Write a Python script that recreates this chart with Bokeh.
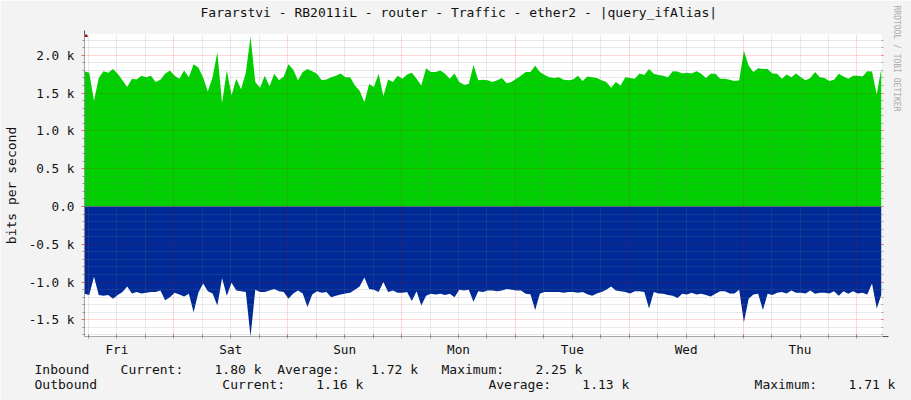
import numpy as np
from bokeh.plotting import figure
from bokeh.models import Range1d, FixedTicker, Arrow, NormalHead, ColumnDataSource, LinearAxis, Title
from bokeh.embed import file_html
from bokeh.resources import INLINE

# ---------------- data (k bits per second, hourly samples) ----------------
title_text = "Fararstvi - RB2011iL - router - Traffic - ether2 - |query_ifAlias|"
start_hour = 5.17  # hours after Friday 00:00 of first sample

inbound = [
    1.79, 1.77, 1.40, 1.70, 1.79, 1.77, 1.82, 1.755, 1.67, 1.58,
    1.69, 1.68, 1.73, 1.71, 1.73, 1.645, 1.675, 1.755, 1.80, 1.73,
    1.69, 1.80, 1.71, 1.88, 1.84, 1.71, 1.52, 1.71, 2.04, 1.37,
    1.80, 1.47, 1.69, 1.55, 1.77, 2.25, 1.645, 1.57, 1.73, 1.59,
    1.755, 1.67, 1.72, 1.88, 1.81, 1.67, 1.78, 1.82, 1.79, 1.755,
    1.67, 1.68, 1.71, 1.73, 1.76, 1.71, 1.71, 1.60, 1.53, 1.38,
    1.62, 1.58, 1.755, 1.46, 1.68, 1.645, 1.73, 1.69, 1.745, 1.77,
    1.69, 1.60, 1.83, 1.78, 1.78, 1.80, 1.755, 1.69, 1.76, 1.645,
    1.61, 1.62, 1.87, 1.67, 1.675, 1.67, 1.645, 1.67, 1.70, 1.63,
    1.645, 1.69, 1.73, 1.78, 1.78, 1.86, 1.78, 1.74, 1.71, 1.70,
    1.71, 1.675, 1.67, 1.68, 1.73, 1.66, 1.72, 1.71, 1.70, 1.67,
    1.645, 1.57, 1.645, 1.60, 1.71, 1.70, 1.69, 1.76, 1.74, 1.82,
    1.755, 1.74, 1.73, 1.71, 1.79, 1.785, 1.76, 1.77, 1.76, 1.79,
    1.755, 1.70, 1.755, 1.755, 1.69, 1.69, 1.675, 1.66, 1.67, 2.06,
    1.86, 1.78, 1.83, 1.82, 1.82, 1.76, 1.755, 1.69, 1.745, 1.71,
    1.76, 1.71, 1.67, 1.70, 1.78, 1.71, 1.70, 1.66, 1.675, 1.755,
    1.72, 1.69, 1.73, 1.73, 1.72, 1.79, 1.785, 1.48, 1.84,
]

outbound = [
    -1.155, -1.17, -0.93, -1.17, -1.18, -1.17, -1.22, -1.17, -1.13, -1.06,
    -1.15, -1.13, -1.15, -1.14, -1.13, -1.13, -1.11, -1.24, -1.20, -1.14,
    -1.165, -1.19, -1.155, -1.40, -1.14, -1.02, -1.12, -1.15, -1.31, -0.95,
    -1.18, -1.01, -1.11, -1.12, -1.13, -1.72, -1.10, -1.13, -1.13, -1.11,
    -1.09, -1.12, -1.13, -1.22, -1.15, -1.11, -1.15, -1.33, -1.165, -1.12,
    -1.14, -1.13, -1.20, -1.18, -1.165, -1.15, -1.14, -1.10, -1.06, -0.94,
    -1.09, -1.10, -1.13, -1.00, -1.13, -1.11, -1.14, -1.14, -1.13, -1.25,
    -1.12, -1.31, -1.18, -1.155, -1.165, -1.155, -1.17, -1.155, -1.20, -1.10,
    -1.11, -1.10, -1.26, -1.12, -1.13, -1.11, -1.11, -1.12, -1.11, -1.09,
    -1.10, -1.11, -1.11, -1.155, -1.16, -1.37, -1.15, -1.13, -1.13, -1.13,
    -1.13, -1.14, -1.13, -1.13, -1.14, -1.13, -1.16, -1.18, -1.15, -1.13,
    -1.10, -1.06, -1.11, -1.12, -1.13, -1.15, -1.12, -1.12, -1.13, -1.35,
    -1.13, -1.15, -1.155, -1.17, -1.18, -1.21, -1.155, -1.165, -1.14, -1.165,
    -1.155, -1.17, -1.19, -1.155, -1.12, -1.12, -1.15, -1.15, -1.10, -1.53,
    -1.22, -1.165, -1.155, -1.37, -1.155, -1.17, -1.14, -1.13, -1.15, -1.11,
    -1.14, -1.14, -1.15, -1.11, -1.155, -1.14, -1.14, -1.15, -1.12, -1.18,
    -1.12, -1.155, -1.12, -1.15, -1.14, -1.165, -1.02, -1.35, -1.16,
]

day_names = ["Fri", "Sat", "Sun", "Mon", "Tue", "Wed", "Thu"]
y_ticks = [-1.5, -1.0, -0.5, 0.0, 0.5, 1.0, 1.5, 2.0]
y_tick_labels = ["-1.5 k", "-1.0 k", "-0.5 k", "0.0", "0.5 k", "1.0 k", "1.5 k", "2.0 k"]

series_names = ["Inbound", "Outbound"]
series_colors = ["#00CF00", "#002A97"]
current_vals = [1.80, 1.16]
average_vals = [1.72, 1.13]
maximum_vals = [2.25, 1.71]

# ---------------- geometry ----------------
W, H = 911, 400
FL, FR, FT, FB = 81, 881, 34, 336       # plot frame in page pixels

hours = start_hour + np.arange(len(inbound))
x_lo, x_hi = float(hours[0]), float(hours[-1])
y_lo, y_hi = -1.72, 2.275
PX_H = (FR - FL) / (x_hi - x_lo)
PX_K = (FB - FT) / (y_hi - y_lo)


def ax(px):
    return x_lo + (px - FL) / PX_H


def ay(py):
    return y_lo + (FB - py) / PX_K


FONT = "DejaVu Sans Mono"
BG = "#F3F3F3"
TXT = "#111111"
NB = "\u00a0"

p = figure(width=W, height=H, x_range=Range1d(x_lo, x_hi), y_range=Range1d(y_lo, y_hi),
           output_backend="svg", toolbar_location=None,
           min_border_left=FL, min_border_right=W - FR,
           min_border_top=FT, min_border_bottom=H - FB,
           background_fill_color="white", border_fill_color=BG, outline_line_color=None)

p.title = Title(text=title_text + "\n", align="left", offset=116, standoff=0, text_font=FONT,
                text_font_size="13px", text_font_style="normal", text_color=TXT)

src = ColumnDataSource(dict(t=hours, inb=inbound, outb=outbound, zero=np.zeros(len(hours))))
p.varea(x="t", y1="zero", y2="inb", source=src, fill_color=series_colors[0])
p.varea(x="t", y1="zero", y2="outb", source=src, fill_color=series_colors[1])

# ---------------- grids ----------------
midnights = [h for h in range(24, 200, 24) if x_lo <= h <= x_hi]
six_hours = [h for h in range(6, 200, 6) if x_lo <= h <= x_hi and h % 24 != 0]
noons = [12 + 24 * i for i in range(len(day_names))]
y_minor = [round(v / 10.0, 1) for v in range(-17, 23) if v % 5 != 0]

for g in (p.xgrid, p.ygrid):
    g.level = "guide"
    g.grid_line_color = "#E00000"
    g.grid_line_alpha = 0.3
    g.grid_line_dash = "1 1"
    g.minor_grid_line_color = "#7F7F7F"
    g.minor_grid_line_alpha = 0.35
    g.minor_grid_line_dash = "1 1"
p.xgrid.ticker = FixedTicker(ticks=midnights, minor_ticks=six_hours)
p.ygrid.ticker = FixedTicker(ticks=y_ticks, minor_ticks=y_minor)

# ---------------- axes ----------------
xa = p.xaxis[0]
xa.ticker = FixedTicker(ticks=noons, minor_ticks=sorted(six_hours + midnights))
xa.major_label_overrides = {n: d for n, d in zip(noons, day_names)}
xa.axis_line_color = None
xa.major_tick_line_color = None
xa.major_tick_out = 0
xa.major_tick_in = 0
xa.minor_tick_line_color = "#999999"
xa.minor_tick_out = 2
xa.minor_tick_in = 2
xa.major_label_standoff = 3
xa.major_label_text_font = FONT
xa.major_label_text_font_size = "12.7px"
xa.major_label_text_color = TXT

ya = p.yaxis[0]
ya.ticker = FixedTicker(ticks=y_ticks, minor_ticks=y_minor)
ya.major_label_overrides = {v: s for v, s in zip(y_ticks, y_tick_labels)}
ya.axis_line_color = None
ya.major_tick_line_color = "#E07070"
ya.major_tick_out = 3
ya.major_tick_in = 0
ya.minor_tick_line_color = "#999999"
ya.minor_tick_out = 2
ya.minor_tick_in = 0
ya.major_label_standoff = 7
ya.major_label_text_font = FONT
ya.major_label_text_font_size = "12.7px"
ya.major_label_text_color = TXT
ya.axis_label = "bits per second"
ya.axis_label_standoff = 7
ya.axis_label_text_font = FONT
ya.axis_label_text_font_size = "13px"
ya.axis_label_text_font_style = "normal"
ya.axis_label_text_color = TXT

ra = LinearAxis(ticker=FixedTicker(ticks=y_ticks, minor_ticks=y_minor),
                axis_line_color=None, major_tick_line_color="#E07070",
                minor_tick_line_color="#AAAAAA", major_tick_out=2, major_tick_in=0,
                minor_tick_out=2, minor_tick_in=0, major_label_standoff=0,
                major_label_overrides={v: "" for v in y_ticks})
p.add_layout(ra, "right")
p.add_layout(Title(text="RRDTOOL / TOBI OETIKER", align="left", text_font=FONT,
                   text_font_size="8px", text_font_style="normal", text_color="#AAAAAA",
                   standoff=17, offset=-29), "right")

AX_COL = "#505050"
ARROW_COL = "#9A1A1A"
p.add_layout(Arrow(end=NormalHead(size=6, fill_color=ARROW_COL, line_color=ARROW_COL),
                   x_start=ax(FL - 4), y_start=y_lo, x_end=ax(888), y_end=y_lo,
                   line_color=AX_COL, line_width=1))
p.add_layout(Arrow(end=NormalHead(size=6, fill_color=ARROW_COL, line_color=ARROW_COL),
                   x_start=x_lo, y_start=ay(FB + 4), x_end=x_lo, y_end=ay(30),
                   line_color=AX_COL, line_width=1))

# ---------------- legend text (RRDtool style rows, monospace columns) ----------------
def row_text(parts, cols):
    s = ""
    for part, c in zip(parts, cols):
        s = s + NB * max(c - len(s), 0) + part
    return s


legend_cols = [[0, 11, 23, 31, 43, 52, 64],
               [0, 24, 36, 58, 70, 92, 104]]
rows = []
for k in range(len(series_names)):
    parts = [series_names[k], "Current:", f"{current_vals[k]:.2f} k", "Average:",
             f"{average_vals[k]:.2f} k", "Maximum:", f"{maximum_vals[k]:.2f} k"]
    rows.append(row_text(parts, legend_cols[k]))

p.add_layout(Title(text="\n".join(rows), align="left", offset=31 - FL, standoff=1,
                   text_font=FONT, text_font_size="13px", text_font_style="normal",
                   text_color=TXT), "below")

open("out.html", "w").write(file_html(p, INLINE))
